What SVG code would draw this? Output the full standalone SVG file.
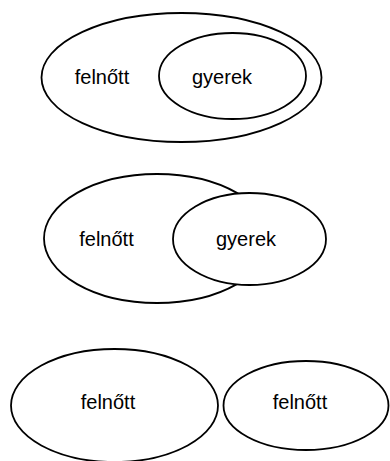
<svg xmlns="http://www.w3.org/2000/svg" width="390" height="461" viewBox="0 0 390 461">
<style>
.e{fill:#fff;stroke:#000;stroke-width:1.8}
.t{font-family:"Liberation Sans",Arial,sans-serif;font-size:20px;fill:#000;text-anchor:middle}
</style>
<rect width="390" height="461" fill="#fff"/>
<g id="set1">
<g id="felnott1"><ellipse class="e" cx="181.5" cy="77.5" rx="140" ry="64.5"/><text class="t" x="102" y="84">felnőtt</text></g>
<g id="gyerek1"><ellipse class="e" cx="232.5" cy="76" rx="73.5" ry="43"/><text class="t" x="222" y="84">gyerek</text></g>
</g>
<g id="set2">
<g id="felnott2"><ellipse class="e" cx="157" cy="238.5" rx="113" ry="64.5"/><text class="t" x="106.5" y="246">felnőtt</text></g>
<g id="gyerek2"><ellipse class="e" cx="249.5" cy="239" rx="76.5" ry="46"/><text class="t" x="246" y="246">gyerek</text></g>
</g>
<g id="set3">
<g id="felnott3"><ellipse class="e" cx="114.5" cy="405.5" rx="103.5" ry="56.5"/><text class="t" x="108" y="409">felnőtt</text></g>
<g id="felnott4"><ellipse class="e" cx="306" cy="405.5" rx="82.5" ry="44.5"/><text class="t" x="300" y="409">felnőtt</text></g>
</g>
<g id="connectors"/>
</svg>
